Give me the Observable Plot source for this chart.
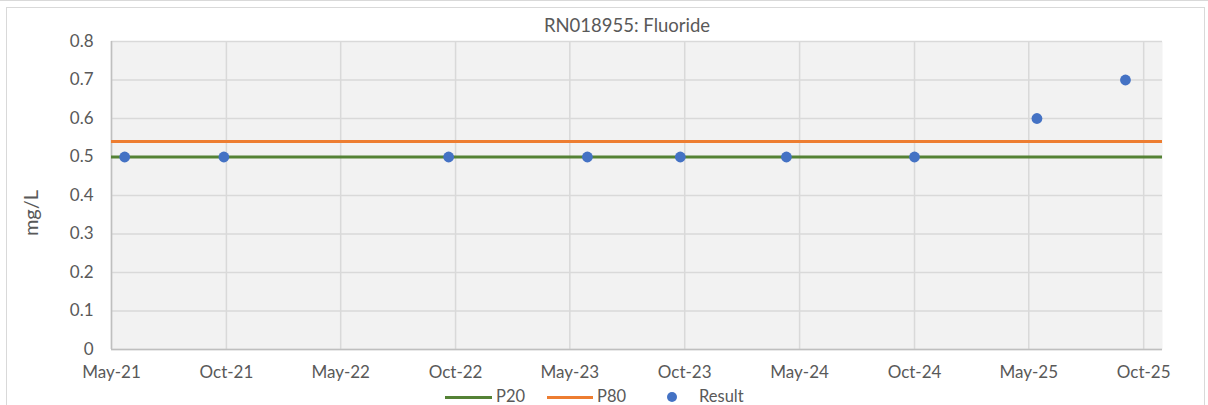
<!DOCTYPE html>
<html>
<head>
<meta charset="utf-8">
<script src="https://cdn.jsdelivr.net/npm/d3@7"></script>
<script src="https://cdn.jsdelivr.net/npm/@observablehq/plot@0.6"></script>
<style>
  html, body { margin: 0; padding: 0; background: #fff; }
  #chart { position: relative; width: 1208px; height: 405px; overflow: hidden; font-family: Lato, "Open Sans", sans-serif; color: #595959; }
  #topline { position: absolute; left: 0; top: 0; width: 1208px; height: 1px; background: #D9D9D9; }
  #box { position: absolute; left: 6px; top: 7px; width: 1199px; height: 420px; border: 1px solid #D9D9D9; box-sizing: border-box; }
  #plot { position: absolute; left: 0; top: 0; }
  #title { position: absolute; left: 427px; width: 400px; top: 15px; text-align: center; font-size: 18.5px; line-height: 20px; white-space: nowrap; }
  #ylabel { position: absolute; left: -20px; top: 203px; width: 100px; height: 20px; line-height: 20px; text-align: center; font-size: 20px; transform: rotate(-90deg); }
  .leg { position: absolute; }
  .legline { height: 3px; top: 396px; }
  .legtext { top: 388px; font-size: 16.5px; line-height: 16px; white-space: nowrap; }
  .legdot { width: 10px; height: 10px; border-radius: 50%; top: 392px; }
</style>
</head>
<body>
<div id="chart">
  <div id="topline"></div>
  <div id="box"></div>
  <div id="plot"></div>
  <div id="title"></div>
  <div id="ylabel"></div>
  <div id="legend"></div>
</div>
<script>
// ---- data ----
const chartTitle = "RN018955: Fluoride";
const yAxisTitle = "mg/L";
const resultDates = ["2021-05-22", "2021-10-27", "2022-10-20", "2023-05-29", "2023-10-24", "2024-04-10", "2024-10-31", "2025-05-14", "2025-10-02"];
const resultValues = [0.5, 0.5, 0.5, 0.5, 0.5, 0.5, 0.5, 0.6, 0.7];
const p20Value = 0.5;
const p80Value = 0.54;
const xTickDates = ["2021-05-01", "2021-10-31", "2022-05-01", "2022-10-31", "2023-05-01", "2023-10-31", "2024-05-01", "2024-10-31", "2025-05-01", "2025-10-31"];
const yTickValues = [0, 0.1, 0.2, 0.3, 0.4, 0.5, 0.6, 0.7, 0.8];
const yTickLabels = ["0", "0.1", "0.2", "0.3", "0.4", "0.5", "0.6", "0.7", "0.8"];
const xDomain = ["2021-05-01", "2025-11-30"];
const yDomain = [0, 0.8];
const legendLabels = ["P20", "P80", "Result"];

// ---- colours ----
const cP20 = "#548235", cP80 = "#ED7D31", cResult = "#4472C4";

const results = resultDates.map((d, i) => ({date: new Date(d), value: resultValues[i]}));
const xTicks = xTickDates.map(d => new Date(d));
const fmt = d3.utcFormat("%b-%y");
const yFmt = v => yTickLabels[yTickValues.indexOf(v)];

const plot = Plot.plot({
  width: 1208,
  height: 385,
  marginLeft: 111,
  marginRight: 46,
  marginTop: 41,
  marginBottom: 36,
  x: {type: "utc", domain: xDomain.map(d => new Date(d))},
  y: {domain: yDomain},
  style: {fontFamily: "Lato, 'Open Sans', sans-serif", fontSize: "17px", color: "#595959", background: "transparent", overflow: "visible"},
  marks: [
    Plot.frame({fill: "#F2F2F2", stroke: null}),
    Plot.gridX(xTicks, {stroke: "#D9D9D9", strokeOpacity: 1, strokeWidth: 1.5}),
    Plot.gridY(yTickValues, {stroke: "#D9D9D9", strokeOpacity: 1, strokeWidth: 1.5}),
    Plot.ruleX([xDomain[0]].map(d => new Date(d)), {stroke: "#BFBFBF", strokeWidth: 1.5}),
    Plot.ruleY([0], {stroke: "#BFBFBF", strokeWidth: 1.5}),
    Plot.axisX(xTicks, {tickSize: 0, tickPadding: 16, tickFormat: fmt, label: null, fill: "#595959"}),
    Plot.axisY(yTickValues, {tickSize: 0, tickPadding: 18, tickFormat: yFmt, label: null, fill: "#595959"}),
    Plot.ruleY([p20Value], {stroke: cP20, strokeWidth: 3}),
    Plot.ruleY([p80Value], {stroke: cP80, strokeWidth: 3}),
    Plot.dot(results, {x: "date", y: "value", r: 5.4, fill: cResult, stroke: null})
  ]
});
document.getElementById("plot").appendChild(plot);
document.getElementById("title").textContent = chartTitle;
document.getElementById("ylabel").textContent = yAxisTitle;

// legend
const legend = document.getElementById("legend");
function add(cls, style, text) {
  const el = document.createElement("div");
  el.className = "leg " + cls;
  Object.assign(el.style, style);
  if (text) el.textContent = text;
  legend.appendChild(el);
}
add("legline", {left: "445px", width: "47px", background: cP20});
add("legtext", {left: "496px"}, legendLabels[0]);
add("legline", {left: "547px", width: "46px", background: cP80});
add("legtext", {left: "597px"}, legendLabels[1]);
add("legdot", {left: "667px", background: cResult});
add("legtext", {left: "699px"}, legendLabels[2]);
</script>
</body>
</html>
